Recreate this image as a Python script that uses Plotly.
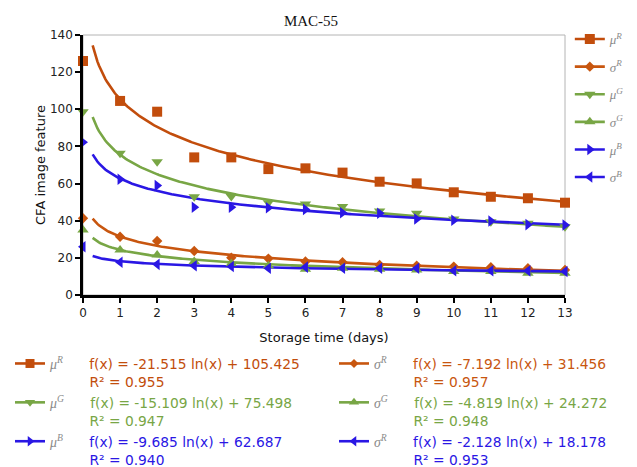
import numpy as np
import plotly.graph_objects as go

# ---------------- data ----------------
days = list(range(14))
mu_R = [126.0, 104.5, 98.7, 74.1, 74.1, 67.8, 68.2, 65.9, 61.0, 60.1, 55.3, 52.9, 52.1, 49.7]
sigma_R = [41.3, 31.4, 29.1, 23.7, 20.1, 19.6, 18.0, 17.6, 16.2, 15.8, 15.3, 15.0, 14.4, 13.5]
mu_G = [98.7, 76.3, 71.8, 52.9, 53.0, 49.7, 49.0, 47.6, 45.2, 44.0, 40.9, 39.5, 38.6, 36.8]
sigma_G = [35.0, 24.2, 21.5, 18.0, 17.0, 15.8, 13.8, 14.4, 13.8, 13.5, 12.6, 12.6, 11.7, 11.7]
mu_B = [82.2, 62.3, 58.9, 47.2, 47.2, 47.0, 46.1, 44.3, 44.0, 40.9, 40.3, 39.8, 37.9, 37.7]
sigma_B = [26.0, 17.6, 16.5, 15.8, 15.3, 14.4, 15.0, 14.4, 14.4, 14.4, 13.1, 13.1, 13.0, 12.6]

series_keys = ["R", "R", "G", "G", "B", "B"]
series_sym = ["μ", "σ", "μ", "σ", "μ", "σ"]
legend2_sup = ["R", "R", "G", "G", "B", "R"]
series_vals = [mu_R, sigma_R, mu_G, sigma_G, mu_B, sigma_B]

# logarithmic trend lines: f(x) = a ln(x) + b
trend_a = [-21.515, -7.192, -15.109, -4.819, -9.685, -2.128]
trend_b = [105.425, 31.456, 75.498, 24.272, 62.687, 18.178]
trend_r2 = ["0.955", "0.957", "0.947", "0.948", "0.940", "0.953"]
trend_x_start = 0.26
trend_x_end = 13

x_ticks = list(range(14))
y_ticks = [0, 20, 40, 60, 80, 100, 120, 140]

# ---------------- styles ----------------
colors = ["#c24d0c", "#c8560f", "#78a645", "#78a645", "#2a17e4", "#2a17e4"]
symbols = ["square", "diamond", "triangle-down", "triangle-up", "triangle-right", "triangle-left"]
msizes = [10, 8, 10, 10, 10, 10]
SANS = "DejaVu Sans"
SERIF = "Liberation Serif"

OFF = 8  # default page body margin
W, H = 637 - OFF, 467 - OFF

fig = go.Figure()

tx = np.linspace(trend_x_start, trend_x_end, 300)
for i in range(6):
    fig.add_trace(go.Scatter(
        x=tx, y=trend_a[i] * np.log(tx) + trend_b[i], mode="lines",
        line=dict(color=colors[i], width=2.6), showlegend=False, hoverinfo="skip"))

for i in range(6):
    fig.add_trace(go.Scatter(
        x=days, y=series_vals[i], mode="markers", cliponaxis=False,
        marker=dict(symbol=symbols[i], size=msizes[i], color=colors[i]),
        showlegend=False))

# right-hand legend
for i in range(6):
    name = (f"<span style='font-family:{SERIF};font-style:italic'>{series_sym[i]}"
            f"<sup>{series_keys[i]}</sup></span>")
    fig.add_trace(go.Scatter(
        x=[None], y=[None], mode="lines+markers", name=name, legend="legend",
        legendgroup=f"g{i}",
        line=dict(color=colors[i], width=2.6),
        marker=dict(symbol=symbols[i], size=msizes[i], color=colors[i])))

# bottom legends with trend equations (left column: mu, right column: sigma)
nb = "\u00a0"
for i in range(6):
    sign = "+" if trend_b[i] >= 0 else "-"
    eq = f"f(x) = {trend_a[i]:.3f} ln(x) {sign} {abs(trend_b[i]):.3f}"
    name = (f"<span style='font-family:{SERIF};font-style:italic;color:#8a8a8a'>{series_sym[i]}"
            f"<sup>{legend2_sup[i]}</sup></span>{nb*6}"
            f"<span style='color:{colors[i]}'>{eq}</span><br>"
            f"{nb*9}<span style='color:{colors[i]}'>R² = {trend_r2[i]}</span>")
    fig.add_trace(go.Scatter(
        x=[None], y=[None], mode="lines+markers", name=name,
        legend="legend2" if i % 2 == 0 else "legend3",
        line=dict(color=colors[i], width=2.6),
        marker=dict(symbol=symbols[i], size=msizes[i] - 1, color=colors[i])))

PL, PR, PT, PB = 83, 565, 35, 295  # plot area in window pixels
PW, PH = PR - PL, PB - PT


def px_x(px):
    return (px - PL) / PW


def px_y(py):
    return (PB - py) / PH


leg_font = dict(family=SANS, size=13.8, color="#444444")

fig.update_layout(
    width=W, height=H,
    margin=dict(l=PL - OFF, r=W - (PR - OFF), t=PT - OFF, b=H - (PB - OFF), autoexpand=False),
    paper_bgcolor="white", plot_bgcolor="white",
    font=dict(family=SANS, size=12, color="#222222"),
    title=dict(text="MAC-55", x=(311 - OFF) / W, xanchor="center", y=1 - (21 - OFF) / H,
               yanchor="middle", font=dict(family=SERIF, size=15, color="#111111")),
    xaxis=dict(range=[0, 13], tickmode="array", tickvals=x_ticks, ticktext=[str(t) for t in x_ticks],
               showgrid=False, zeroline=False, showline=True, linecolor="black", linewidth=2.5,
               ticks="outside", ticklen=5, tickwidth=1.5, tickcolor="black",
               tickfont=dict(family=SANS, size=12, color="#222222"),
               title=dict(text="Storage time (days)", standoff=14,
                          font=dict(family=SANS, size=13, color="#111111"))),
    yaxis=dict(range=[0, 140], tickmode="array", tickvals=y_ticks, ticktext=[str(t) for t in y_ticks],
               showgrid=False, zeroline=False, showline=True, linecolor="black", linewidth=2.5,
               ticks="outside", ticklen=5, tickwidth=1.5, tickcolor="black",
               tickfont=dict(family=SANS, size=12, color="#222222"),
               title=dict(text="CFA image feature", standoff=2,
                          font=dict(family=SANS, size=13, color="#111111"))),
    legend=dict(x=1.01, xanchor="left", y=1.042, yanchor="top", traceorder="grouped",
                tracegroupgap=7.7, bgcolor="rgba(0,0,0,0)",
                font=dict(family=SERIF, size=13, color="#8a8a8a")),
    legend2=dict(x=px_x(10), xanchor="left", y=px_y(348), yanchor="top",
                 valign="top", bgcolor="rgba(0,0,0,0)", font=leg_font),
    legend3=dict(x=px_x(334), xanchor="left", y=px_y(348), yanchor="top",
                 valign="top", bgcolor="rgba(0,0,0,0)", font=leg_font),
    shapes=[dict(type="rect", xref="paper", yref="paper", x0=0, x1=1, y0=0, y1=1,
                 line=dict(color="#b4b4b4", width=1), layer="below")],
)

fig.write_html("out.html")
